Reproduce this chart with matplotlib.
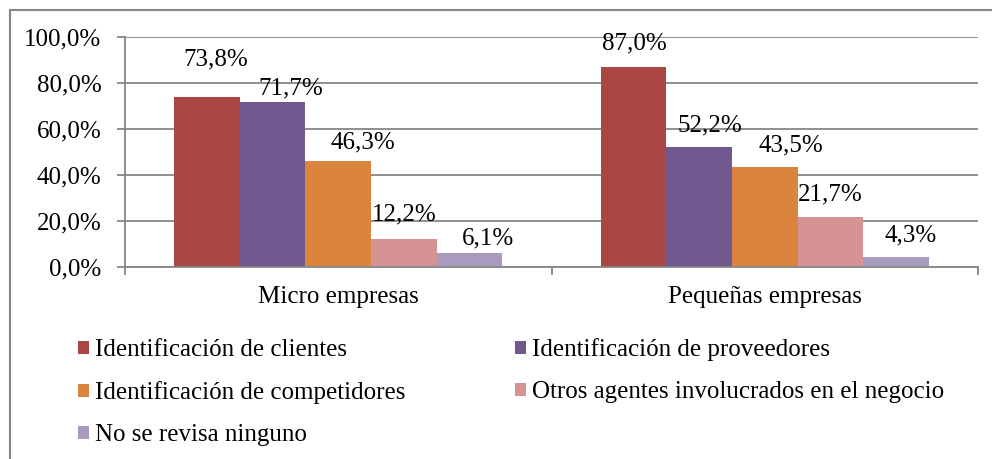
import matplotlib
matplotlib.use("Agg")
from matplotlib import pyplot as plt
from matplotlib.patches import Rectangle
from matplotlib.ticker import FuncFormatter, MultipleLocator

categories = ["Micro empresas", "Pequeñas empresas"]
series = ["Identificación de clientes", "Identificación de proveedores",
          "Identificación de competidores", "Otros agentes involucrados en el negocio",
          "No se revisa ninguno"]
values = [
    [73.8, 87.0],
    [71.7, 52.2],
    [46.3, 43.5],
    [12.2, 21.7],
    [6.1, 4.3],
]
colors = ["#AA4643", "#71588F", "#DB843D", "#D59393", "#A99BBD"]

# label nudges in pixels (dx, dy of label centre above bar top), per series/category
label_dx = [[9, 1], [18, 11], [25, 26], [0, 0], [19, 15]]
label_dy = [[38, 23], [14, 21], [18, 21], [24, 23], [15, 22]]

plt.rcParams["font.family"] = ["Liberation Serif", "DejaVu Serif"]
plt.rcParams["font.size"] = 18

fig = plt.figure(figsize=(9.92, 4.59), dpi=100)
ax = fig.add_axes([125 / 992, 1 - 267 / 459, (978 - 125) / 992, 230 / 459])

n = len(series)
w = 1 / (n + 1.5)
handles = []
for i, (name, vals, c) in enumerate(zip(series, values, colors)):
    xs = [k + (i - (n - 1) / 2) * w for k in range(len(categories))]
    bars = ax.bar(xs, vals, width=w, color=c, label=name, zorder=2)
    handles.append(bars)
    for j, (x, v) in enumerate(zip(xs, vals)):
        ax.annotate(f"{v:.1f}%".replace(".", ","), (x, v),
                    xytext=(label_dx[i][j], label_dy[i][j]), textcoords="offset pixels",
                    ha="center", va="center", fontsize=18, zorder=3)

grey = "#868686"
ax.set_xlim(-0.5, len(categories) - 0.5)
ax.set_ylim(0, 100)
ax.yaxis.set_major_locator(MultipleLocator(20))
ax.yaxis.set_major_formatter(FuncFormatter(lambda v, p: f"{v:.1f}%".replace(".", ",")))
ax.set_xticks([-0.5, 0.5, 1.5], minor=False)
ax.set_xticklabels([])
ax.set_xticks(range(len(categories)), minor=True)
ax.set_xticklabels(categories, minor=True)
ax.tick_params(axis="x", which="major", length=6, color=grey, width=1.3)
ax.tick_params(axis="x", which="minor", length=0, pad=14)
ax.tick_params(axis="y", length=6, color=grey, width=1.3, pad=11)
ax.grid(axis="y", color=grey, linewidth=1.3, zorder=0)
ax.set_axisbelow(True)
for s in ["top", "right"]:
    ax.spines[s].set_visible(False)
for s in ["left", "bottom"]:
    ax.spines[s].set_color(grey)
    ax.spines[s].set_linewidth(1.3)

order = [0, 2, 4, 1, 3]
fig.legend([handles[k] for k in order], [series[k] for k in order], ncol=2,
           loc="upper left", bbox_to_anchor=(78 / 992, 1 - 338 / 459), frameon=False,
           borderpad=0, borderaxespad=0, handlelength=0.42, handleheight=0.42,
           handletextpad=0.25, columnspacing=4.4, labelspacing=0.8, fontsize=18)

fig.patches.append(Rectangle((10 / 992, -0.1), 1.2, 1 - 10 / 459 + 0.1,
                             transform=fig.transFigure, fill=False,
                             edgecolor=grey, linewidth=1.5))

fig.savefig("out.png", dpi=100)
